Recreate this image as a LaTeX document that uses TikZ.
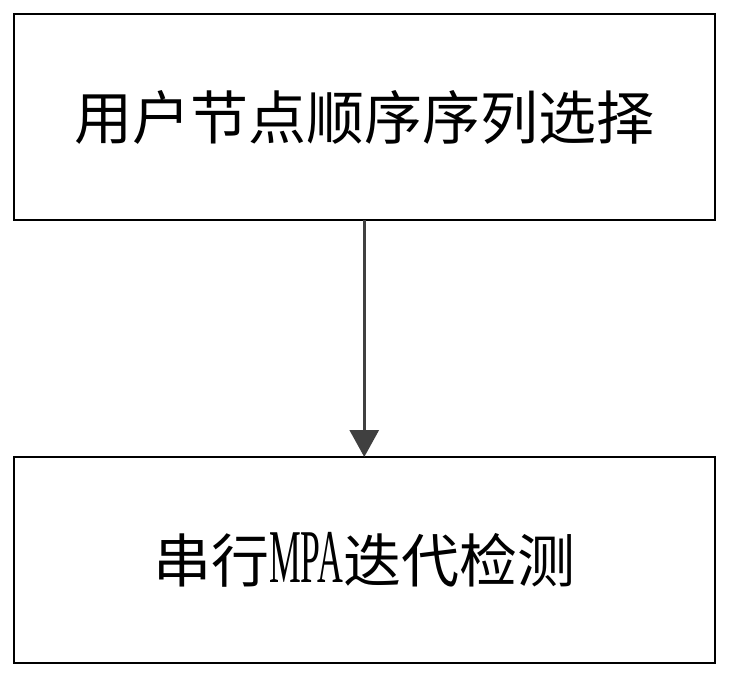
\documentclass[tikz,border=0pt]{standalone}
\usepackage{fontspec}
\usetikzlibrary{arrows.meta}
\newfontfamily\cjk{Noto Sans CJK SC}
\newfontfamily\latinserif{Liberation Serif}
\definecolor{arrowgray}{HTML}{404040}
\tikzset{
  stepbox/.style={draw=black, line width=2pt, rectangle, inner sep=0pt, outer sep=0pt,
    minimum width=701.5pt, minimum height=206pt, font=\cjk\fontsize{58}{58}\selectfont},
  flowarrow/.style={draw=arrowgray, line width=3pt, -{Triangle[width=29pt,length=27pt]}}
}
\begin{document}
\begin{tikzpicture}[x=1pt,y=-1pt]
\useasboundingbox (0,0) rectangle (735,683);
\node[stepbox] (b1) at (364.25,117) {用户节点顺序序列选择};
\node[stepbox] (b2) at (364.25,560) {串行\scalebox{0.47}[1]{\latinserif\fontsize{76}{76}\selectfont MPA}迭代检测};
\draw[flowarrow] (b1.south) -- (b2.north);
\end{tikzpicture}
\end{document}
